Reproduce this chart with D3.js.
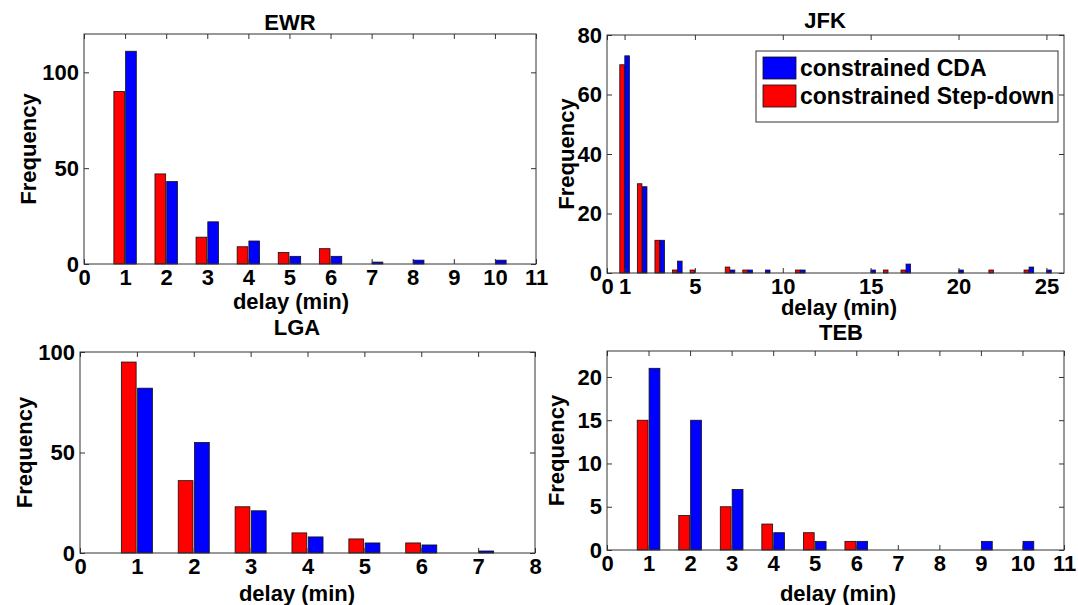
<!DOCTYPE html>
<html>
<head>
<meta charset="utf-8">
<script src="https://cdn.jsdelivr.net/npm/d3@7"></script>
<style>
  body { margin: 0; background: #fff; }
  svg text { font-family: "Liberation Sans", Arial, sans-serif; font-weight: bold; fill: #000; }
</style>
</head>
<body>
<div class="chart-area"></div>
<script>
// delay bins (minutes) and frequencies per airport
var ewrDelay = [1, 2, 3, 4, 5, 6, 7, 8, 9, 10];
var ewrCDA   = [111, 43, 22, 12, 4, 4, 1, 2, 0, 2];
var ewrStep  = [90, 47, 14, 9, 6, 8, 0, 0, 0, 0];

var jfkDelay = [1, 2, 3, 4, 5, 6, 7, 8, 9, 10, 11, 12, 13, 14, 15, 16, 17, 18, 19, 20, 21, 22, 23, 24, 25];
var jfkCDA   = [73, 29, 11, 4, 0, 0, 1, 1, 1, 0, 1, 0, 0, 0, 1, 0, 3, 0, 0, 1, 0, 0, 0, 2, 1];
var jfkStep  = [70, 30, 11, 1, 1, 0, 2, 1, 0, 0, 1, 0, 0, 0, 0, 1, 1, 0, 0, 0, 0, 1, 0, 1, 0];

var lgaDelay = [1, 2, 3, 4, 5, 6, 7];
var lgaCDA   = [82, 55, 21, 8, 5, 4, 1];
var lgaStep  = [95, 36, 23, 10, 7, 5, 0];

var tebDelay = [1, 2, 3, 4, 5, 6, 7, 8, 9, 10];
var tebCDA   = [21, 15, 7, 2, 1, 1, 0, 0, 1, 1];
var tebStep  = [15, 4, 5, 3, 2, 1, 0, 0, 0, 0];

var ewrXTicks = [0, 1, 2, 3, 4, 5, 6, 7, 8, 9, 10, 11];
var ewrYTicks = [0, 50, 100];
var jfkXTicks = [0, 1, 5, 10, 15, 20, 25];
var jfkYTicks = [0, 20, 40, 60, 80];
var lgaXTicks = [0, 1, 2, 3, 4, 5, 6, 7, 8];
var lgaYTicks = [0, 50, 100];
var tebXTicks = [0, 1, 2, 3, 4, 5, 6, 7, 8, 9, 10, 11];
var tebYTicks = [0, 5, 10, 15, 20];

var seriesNames = ["constrained CDA", "constrained Step-down"];
var seriesColors = ["#0000ff", "#ff0000"];

var svg = d3.select(".chart-area")
    .append("svg")
    .attr("width", 1078)
    .attr("height", 605);

var panels = [
    { title: "EWR", delay: ewrDelay, cda: ewrCDA, step: ewrStep, xMax: 11, yMax: 120,
      xTicks: ewrXTicks, yTicks: ewrYTicks, x0: 84, x1: 536, y0: 34, y1: 264,
      titleX: 290, titleY: 22, xlabX: 291, xlabY: 301, ylabX: 28 },
    { title: "JFK", delay: jfkDelay, cda: jfkCDA, step: jfkStep, xMax: 26, yMax: 80,
      xTicks: jfkXTicks, yTicks: jfkYTicks, x0: 607, x1: 1064, y0: 35, y1: 273,
      titleX: 825, titleY: 20, xlabX: 839, xlabY: 307, ylabX: 566, legend: true },
    { title: "LGA", delay: lgaDelay, cda: lgaCDA, step: lgaStep, xMax: 8, yMax: 100,
      xTicks: lgaXTicks, yTicks: lgaYTicks, x0: 80, x1: 535, y0: 352, y1: 553,
      titleX: 297, titleY: 327, xlabX: 297, xlabY: 593, ylabX: 24 },
    { title: "TEB", delay: tebDelay, cda: tebCDA, step: tebStep, xMax: 11, yMax: 23,
      xTicks: tebXTicks, yTicks: tebYTicks, x0: 607, x1: 1064, y0: 351, y1: 550,
      titleX: 841, titleY: 332, xlabX: 838, xlabY: 593, ylabX: 556 }
];

panels.forEach(drawPanel);

function drawPanel(p) {
    var x = d3.scaleLinear().domain([0, p.xMax]).range([p.x0, p.x1]);
    var y = d3.scaleLinear().domain([0, p.yMax]).range([p.y1, p.y0]);
    var g = svg.append("g");

    // bars: step-down left of the bin, CDA right of it
    var half = 0.13, off = 0.143;
    var series = [
        { vals: p.step, color: seriesColors[1], dx: -off },
        { vals: p.cda, color: seriesColors[0], dx: off }
    ];
    series.forEach(function (s) {
        var rows = p.delay.map(function (d, i) { return { d: d, v: s.vals[i] }; })
            .filter(function (r) { return r.v > 0; });
        g.selectAll(null)
            .data(rows)
            .enter().append("rect")
            .attr("x", function (r) { return x(r.d + s.dx - half); })
            .attr("y", function (r) { return y(r.v); })
            .attr("width", function (r) { return x(r.d + s.dx + half) - x(r.d + s.dx - half); })
            .attr("height", function (r) { return y(0) - y(r.v); })
            .attr("fill", s.color)
            .attr("stroke", "#111")
            .attr("stroke-width", 0.8);
    });

    // axes with inward ticks on all four sides
    var fs = "22px";
    var bottom = g.append("g").attr("transform", "translate(0," + p.y1 + ")")
        .call(d3.axisBottom(x).tickValues(p.xTicks).tickFormat(d3.format("d"))
            .tickSizeInner(-5).tickSizeOuter(0).tickPadding(5));
    var top = g.append("g").attr("transform", "translate(0," + p.y0 + ")")
        .call(d3.axisTop(x).tickValues(p.xTicks).tickFormat("")
            .tickSizeInner(-5).tickSizeOuter(0));
    var left = g.append("g").attr("transform", "translate(" + p.x0 + ",0)")
        .call(d3.axisLeft(y).tickValues(p.yTicks).tickFormat(d3.format("d"))
            .tickSizeInner(-5).tickSizeOuter(0).tickPadding(5));
    var right = g.append("g").attr("transform", "translate(" + p.x1 + ",0)")
        .call(d3.axisRight(y).tickValues(p.yTicks).tickFormat("")
            .tickSizeInner(-5).tickSizeOuter(0));
    [bottom, top, left, right].forEach(function (a) {
        a.select(".domain").remove();
        a.selectAll(".tick line").attr("stroke", "#333");
        a.selectAll("text").style("font-size", fs)
            .style("font-family", "'Liberation Sans', Arial, sans-serif")
            .style("font-weight", "bold").attr("fill", "#000");
    });

    g.append("rect")
        .attr("x", p.x0).attr("y", p.y0)
        .attr("width", p.x1 - p.x0).attr("height", p.y1 - p.y0)
        .attr("fill", "none").attr("stroke", "#333").attr("stroke-width", 1);

    g.append("text").attr("x", p.titleX).attr("y", p.titleY)
        .attr("text-anchor", "middle").attr("dominant-baseline", "central")
        .style("font-size", "22px").text(p.title);
    g.append("text").attr("x", p.xlabX).attr("y", p.xlabY)
        .attr("text-anchor", "middle").attr("dominant-baseline", "central")
        .style("font-size", "22px").text("delay (min)");
    g.append("text")
        .attr("transform", "translate(" + p.ylabX + "," + ((p.y0 + p.y1) / 2) + ") rotate(-90)")
        .attr("text-anchor", "middle").attr("dominant-baseline", "central")
        .style("font-size", "22px").text("Frequency");

    if (p.legend) {
        var lg = g.append("g");
        lg.append("rect").attr("x", 756).attr("y", 51).attr("width", 302).attr("height", 71)
            .attr("fill", "#fff").attr("stroke", "#333").attr("stroke-width", 1);
        seriesNames.forEach(function (name, i) {
            var yy = 57 + i * 28;
            lg.append("rect").attr("x", 763).attr("y", yy).attr("width", 33).attr("height", 22)
                .attr("fill", seriesColors[i]).attr("stroke", "#111").attr("stroke-width", 0.8);
            lg.append("text").attr("x", 800).attr("y", yy + 11)
                .attr("dominant-baseline", "central")
                .style("font-size", "23px").text(name);
        });
    }
}
</script>
</body>
</html>
